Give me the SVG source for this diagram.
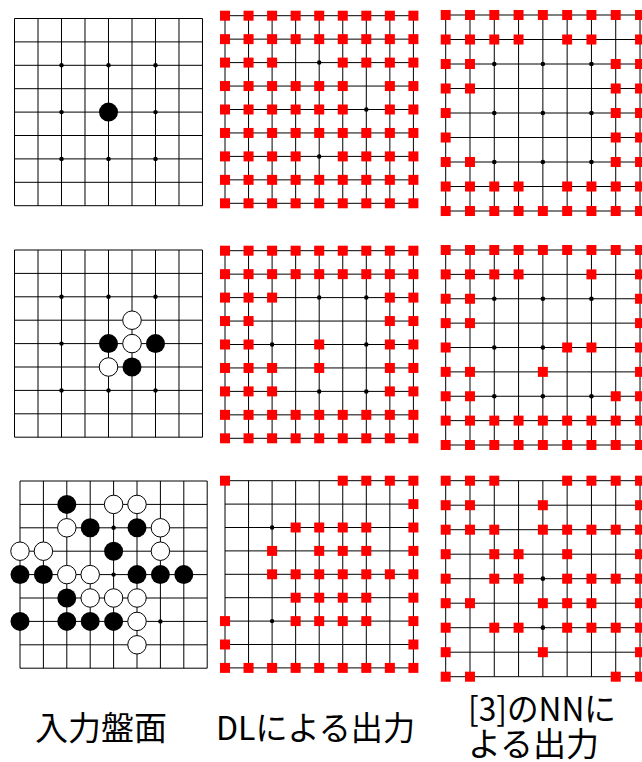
<svg xmlns="http://www.w3.org/2000/svg" xmlns:xlink="http://www.w3.org/1999/xlink" width="642" height="762" viewBox="0 0 642 762">
<style>
.ln{fill:none;stroke:#000;stroke-width:1;vector-effect:non-scaling-stroke}
.hs{fill:#000}
.bk{fill:#000}
.wt{fill:#fff;stroke:#000;stroke-width:1;vector-effect:non-scaling-stroke}
.rd{fill:#ff0000}
.lbl{font-family:"Noto Sans CJK JP","Noto Sans",sans-serif;font-size:33px;fill:#000}
</style>
<defs>
<g id="board">
<path class="ln" d="M0,0H8M0,1H8M0,2H8M0,3H8M0,4H8M0,5H8M0,6H8M0,7H8M0,8H8M0,0V8M1,0V8M2,0V8M3,0V8M4,0V8M5,0V8M6,0V8M7,0V8M8,0V8"/>
<g class="hs">
<circle cx="2" cy="2" r="0.095"/><circle cx="4" cy="2" r="0.095"/><circle cx="6" cy="2" r="0.095"/>
<circle cx="2" cy="4" r="0.095"/><circle cx="4" cy="4" r="0.095"/><circle cx="6" cy="4" r="0.095"/>
<circle cx="2" cy="6" r="0.095"/><circle cx="4" cy="6" r="0.095"/><circle cx="6" cy="6" r="0.095"/>
</g>
</g>
<rect id="d" class="rd" x="-0.213" y="-0.213" width="0.426" height="0.426"/>
<rect id="n" class="rd" x="-0.205" y="-0.205" width="0.41" height="0.41"/>
<g id="rowD"><use href="#d" x="0"/><use href="#d" x="1"/><use href="#d" x="2"/><use href="#d" x="3"/><use href="#d" x="4"/><use href="#d" x="5"/><use href="#d" x="6"/><use href="#d" x="7"/><use href="#d" x="8"/></g>
<g id="rowN"><use href="#n" x="0"/><use href="#n" x="1"/><use href="#n" x="2"/><use href="#n" x="3"/><use href="#n" x="4"/><use href="#n" x="5"/><use href="#n" x="6"/><use href="#n" x="7"/><use href="#n" x="8"/></g>
<circle id="b" class="bk" r="0.405"/>
<circle id="w" class="wt" r="0.395"/>
</defs>

<!-- Row 1 -->
<g id="input-1" transform="translate(14.5,18.5) scale(23.5,23.4)">
<use href="#board"/>
<use href="#b" x="4" y="4"/>
</g>
<g id="dl-1" transform="translate(225,15.7) scale(23.55,23.45)">
<use href="#board"/>
<use href="#rowD" y="0"/><use href="#rowD" y="1"/>
<g transform="translate(0,2)"><use href="#d" x="0"/><use href="#d" x="1"/><use href="#d" x="2"/><use href="#d" x="5"/><use href="#d" x="6"/><use href="#d" x="7"/><use href="#d" x="8"/></g>
<g transform="translate(0,3)"><use href="#d" x="0"/><use href="#d" x="1"/><use href="#d" x="2"/><use href="#d" x="3"/><use href="#d" x="4"/><use href="#d" x="5"/><use href="#d" x="7"/><use href="#d" x="8"/></g>
<g transform="translate(0,4)"><use href="#d" x="0"/><use href="#d" x="1"/><use href="#d" x="2"/><use href="#d" x="3"/><use href="#d" x="4"/><use href="#d" x="5"/><use href="#d" x="7"/><use href="#d" x="8"/></g>
<use href="#rowD" y="5"/>
<g transform="translate(0,6)"><use href="#d" x="0"/><use href="#d" x="1"/><use href="#d" x="2"/><use href="#d" x="3"/><use href="#d" x="5"/><use href="#d" x="6"/><use href="#d" x="7"/><use href="#d" x="8"/></g>
<use href="#rowD" y="7"/><use href="#rowD" y="8"/>
</g>
<g id="nn-1" transform="translate(445.7,15) scale(24.29,24.5)">
<use href="#board"/>
<use href="#rowN" y="0"/>
<g transform="translate(0,1)"><use href="#n" x="0"/><use href="#n" x="1"/><use href="#n" x="2"/><use href="#n" x="3"/><use href="#n" x="5"/><use href="#n" x="6"/><use href="#n" x="8"/></g>
<g transform="translate(0,2)"><use href="#n" x="0"/><use href="#n" x="1"/><use href="#n" x="7"/><use href="#n" x="8"/></g>
<g transform="translate(0,3)"><use href="#n" x="0"/><use href="#n" x="1"/><use href="#n" x="7"/><use href="#n" x="8"/></g>
<g transform="translate(0,4)"><use href="#n" x="0"/><use href="#n" x="7"/><use href="#n" x="8"/></g>
<g transform="translate(0,5)"><use href="#n" x="0"/><use href="#n" x="7"/><use href="#n" x="8"/></g>
<g transform="translate(0,6)"><use href="#n" x="0"/><use href="#n" x="1"/><use href="#n" x="7"/><use href="#n" x="8"/></g>
<g transform="translate(0,7)"><use href="#n" x="0"/><use href="#n" x="1"/><use href="#n" x="2"/><use href="#n" x="3"/><use href="#n" x="5"/><use href="#n" x="6"/><use href="#n" x="7"/><use href="#n" x="8"/></g>
<use href="#rowN" y="8"/>
</g>

<!-- Row 2 -->
<g id="input-2" transform="translate(14.5,250) scale(23.5,23.4)">
<use href="#board"/>
<use href="#w" x="5" y="3"/>
<use href="#b" x="4" y="4"/><use href="#w" x="5" y="4"/><use href="#b" x="6" y="4"/>
<use href="#w" x="4" y="5"/><use href="#b" x="5" y="5"/>
</g>
<g id="dl-2" transform="translate(225,250.7) scale(23.55,23.45)">
<use href="#board"/>
<use href="#rowD" y="0"/><use href="#rowD" y="1"/>
<g transform="translate(0,2)"><use href="#d" x="0"/><use href="#d" x="1"/><use href="#d" x="2"/><use href="#d" x="7"/><use href="#d" x="8"/></g>
<g transform="translate(0,3)"><use href="#d" x="0"/><use href="#d" x="1"/><use href="#d" x="7"/><use href="#d" x="8"/></g>
<g transform="translate(0,4)"><use href="#d" x="0"/><use href="#d" x="1"/><use href="#d" x="4"/><use href="#d" x="7"/><use href="#d" x="8"/></g>
<g transform="translate(0,5)"><use href="#d" x="0"/><use href="#d" x="1"/><use href="#d" x="2"/><use href="#d" x="4"/><use href="#d" x="7"/><use href="#d" x="8"/></g>
<g transform="translate(0,6)"><use href="#d" x="0"/><use href="#d" x="1"/><use href="#d" x="2"/><use href="#d" x="7"/><use href="#d" x="8"/></g>
<use href="#rowD" y="7"/><use href="#rowD" y="8"/>
</g>
<g id="nn-2" transform="translate(445.7,250) scale(24.29,24.375)">
<use href="#board"/>
<use href="#rowN" y="0"/>
<g transform="translate(0,1)"><use href="#n" x="0"/><use href="#n" x="1"/><use href="#n" x="2"/><use href="#n" x="3"/><use href="#n" x="6"/><use href="#n" x="8"/></g>
<g transform="translate(0,2)"><use href="#n" x="0"/><use href="#n" x="1"/><use href="#n" x="8"/></g>
<g transform="translate(0,3)"><use href="#n" x="0"/><use href="#n" x="1"/><use href="#n" x="8"/></g>
<g transform="translate(0,4)"><use href="#n" x="0"/><use href="#n" x="5"/><use href="#n" x="6"/><use href="#n" x="8"/></g>
<g transform="translate(0,5)"><use href="#n" x="0"/><use href="#n" x="1"/><use href="#n" x="4"/><use href="#n" x="8"/></g>
<g transform="translate(0,6)"><use href="#n" x="0"/><use href="#n" x="1"/><use href="#n" x="7"/><use href="#n" x="8"/></g>
<use href="#rowN" y="7"/><use href="#rowN" y="8"/>
</g>

<!-- Row 3 -->
<g id="input-3" transform="translate(20,481) scale(23.4,23.4)">
<use href="#board"/>
<use href="#b" x="2" y="1"/><use href="#w" x="4" y="1"/><use href="#w" x="5" y="1"/>
<use href="#w" x="2" y="2"/><use href="#b" x="3" y="2"/><use href="#b" x="5" y="2"/><use href="#w" x="6" y="2"/>
<use href="#w" x="0" y="3"/><use href="#w" x="1" y="3"/><use href="#b" x="4" y="3"/><use href="#w" x="6" y="3"/>
<use href="#b" x="0" y="4"/><use href="#b" x="1" y="4"/><use href="#w" x="2" y="4"/><use href="#w" x="3" y="4"/><use href="#b" x="5" y="4"/><use href="#b" x="6" y="4"/><use href="#b" x="7" y="4"/>
<use href="#b" x="2" y="5"/><use href="#w" x="3" y="5"/><use href="#w" x="4" y="5"/><use href="#w" x="5" y="5"/>
<use href="#b" x="0" y="6"/><use href="#b" x="2" y="6"/><use href="#b" x="3" y="6"/><use href="#b" x="4" y="6"/><use href="#w" x="5" y="6"/>
<use href="#w" x="5" y="7"/>
</g>
<g id="dl-3" transform="translate(225,480.7) scale(23.55,23.4)">
<use href="#board"/>
<g transform="translate(0,0)"><use href="#d" x="0"/><use href="#d" x="5"/><use href="#d" x="6"/><use href="#d" x="7"/><use href="#d" x="8"/></g>
<g transform="translate(0,1)"><use href="#d" x="8"/></g>
<g transform="translate(0,2)"><use href="#d" x="3"/><use href="#d" x="4"/><use href="#d" x="5"/><use href="#d" x="6"/><use href="#d" x="8"/></g>
<g transform="translate(0,3)"><use href="#d" x="2"/><use href="#d" x="4"/><use href="#d" x="5"/><use href="#d" x="6"/><use href="#d" x="8"/></g>
<g transform="translate(0,4)"><use href="#d" x="2"/><use href="#d" x="3"/><use href="#d" x="4"/><use href="#d" x="5"/><use href="#d" x="6"/><use href="#d" x="7"/><use href="#d" x="8"/></g>
<g transform="translate(0,5)"><use href="#d" x="3"/><use href="#d" x="4"/><use href="#d" x="5"/><use href="#d" x="6"/><use href="#d" x="8"/></g>
<g transform="translate(0,6)"><use href="#d" x="0"/><use href="#d" x="3"/><use href="#d" x="4"/><use href="#d" x="5"/><use href="#d" x="6"/><use href="#d" x="8"/></g>
<g transform="translate(0,7)"><use href="#d" x="0"/><use href="#d" x="8"/></g>
<use href="#rowD" y="8"/>
</g>
<g id="nn-3" transform="translate(445.7,480.7) scale(24.29,24.5)">
<use href="#board"/>
<g transform="translate(0,0)"><use href="#n" x="0"/><use href="#n" x="1"/><use href="#n" x="2"/><use href="#n" x="5"/><use href="#n" x="6"/><use href="#n" x="7"/><use href="#n" x="8"/></g>
<g transform="translate(0,1)"><use href="#n" x="0"/><use href="#n" x="1"/><use href="#n" x="4"/><use href="#n" x="8"/></g>
<g transform="translate(0,2)"><use href="#n" x="0"/><use href="#n" x="1"/><use href="#n" x="2"/><use href="#n" x="4"/><use href="#n" x="5"/><use href="#n" x="6"/><use href="#n" x="7"/><use href="#n" x="8"/></g>
<g transform="translate(0,3)"><use href="#n" x="0"/><use href="#n" x="2"/><use href="#n" x="3"/><use href="#n" x="5"/><use href="#n" x="8"/></g>
<g transform="translate(0,4)"><use href="#n" x="0"/><use href="#n" x="2"/><use href="#n" x="3"/><use href="#n" x="5"/><use href="#n" x="6"/><use href="#n" x="7"/><use href="#n" x="8"/></g>
<g transform="translate(0,5)"><use href="#n" x="0"/><use href="#n" x="1"/><use href="#n" x="4"/><use href="#n" x="5"/><use href="#n" x="6"/><use href="#n" x="8"/></g>
<g transform="translate(0,6)"><use href="#n" x="0"/><use href="#n" x="2"/><use href="#n" x="3"/><use href="#n" x="5"/><use href="#n" x="6"/><use href="#n" x="7"/><use href="#n" x="8"/></g>
<g transform="translate(0,7)"><use href="#n" x="0"/><use href="#n" x="4"/><use href="#n" x="8"/></g>
<g transform="translate(0,8)"><use href="#n" x="0"/><use href="#n" x="1"/><use href="#n" x="7"/><use href="#n" x="8"/></g>
</g>

<!-- Labels -->
<g id="labels">
<text class="lbl" x="35" y="740">入力盤面</text>
<text class="lbl" x="216" y="740" textLength="199" lengthAdjust="spacingAndGlyphs">DLによる出力</text>
<text class="lbl" x="468" y="721" textLength="148" lengthAdjust="spacingAndGlyphs">[3]のNNに</text>
<text class="lbl" x="468" y="756">よる出力</text>
</g>
</svg>
